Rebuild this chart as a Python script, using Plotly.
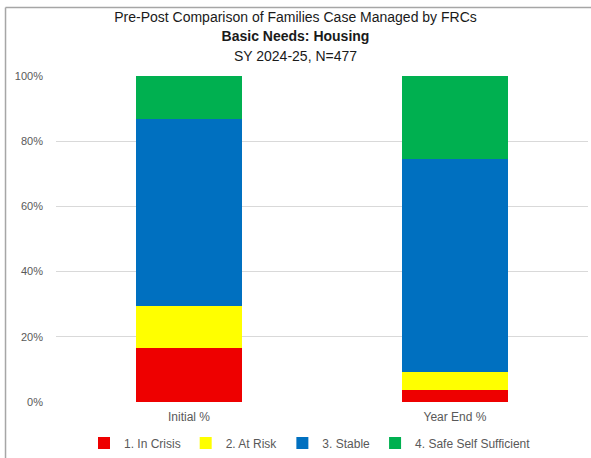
import plotly.graph_objects as go

categories = ["Initial %", "Year End %"]
series_names = ["1. In Crisis", "2. At Risk", "3. Stable", "4. Safe Self Sufficient"]
in_crisis = [16.7, 3.8]
at_risk = [12.9, 5.5]
stable = [57.1, 65.1]
safe_self_sufficient = [13.3, 25.6]
colors = ["#EE0000", "#FFFF00", "#0070C0", "#00B050"]
y_ticks = [0, 20, 40, 60, 80, 100]
title_lines = ["Pre-Post Comparison of Families Case Managed by FRCs",
               "<b>Basic Needs: Housing</b>",
               "SY 2024-25, N=477"]

fig = go.Figure()
for name, vals, col in zip(series_names, [in_crisis, at_risk, stable, safe_self_sufficient], colors):
    fig.add_trace(go.Bar(x=categories, y=vals, name=name, marker=dict(color=col, line=dict(width=0))))

fig.update_layout(
    barmode="stack",
    bargap=0.6,
    width=591, height=458,
    margin=dict(l=55.5, r=3.3, t=76, b=56, pad=0),
    paper_bgcolor="white", plot_bgcolor="white",
    font=dict(family="Liberation Sans, Arial, sans-serif", color="#595959", size=11),
    title=dict(
        text="<br>".join(f'<span style="font-size:14px">{t}</span>' for t in title_lines),
        x=0.5, xref="container", xanchor="center",
        y=0.9528, yref="container", yanchor="top",
        font=dict(size=15, color="#1a1a1a", family="Liberation Sans, Arial, sans-serif"),
    ),
    yaxis=dict(
        range=[0, 100], tickvals=y_ticks, ticktext=[f"{v}%" for v in y_ticks],
        showgrid=True, gridcolor="#D9D9D9", gridwidth=1, zeroline=False,
        showline=False, ticks="", ticklabelstandoff=12, fixedrange=True,
    ),
    xaxis=dict(showgrid=False, showline=False, ticks="", zeroline=False,
               ticklabelstandoff=6, tickfont=dict(size=12), fixedrange=True),
    legend=dict(
        orientation="h", x=310 / 591, xref="container", xanchor="center",
        y=15 / 458, yref="container", yanchor="middle",
        font=dict(size=12, color="#595959"), itemwidth=30, traceorder="normal",
    ),
    showlegend=True,
)

# frame lines (top and left) like the source image border
fig.add_shape(type="line", xref="paper", yref="paper",
              x0=(5 - 55.5) / 532.2, x1=(591 - 55.5) / 532.2,
              y0=1 + (76 - 7.5) / 326, y1=1 + (76 - 7.5) / 326,
              line=dict(color="#A6A6A6", width=1.5))
fig.add_shape(type="line", xref="paper", yref="paper",
              x0=(5 - 55.5) / 532.2, x1=(5 - 55.5) / 532.2,
              y0=1 + (76 - 7.5) / 326, y1=-(458 - 402) / 326,
              line=dict(color="#A6A6A6", width=1.5))

fig.write_html("out.html", config={"displayModeBar": False},
               post_script="document.body.style.margin='0';document.body.style.padding='0';")
